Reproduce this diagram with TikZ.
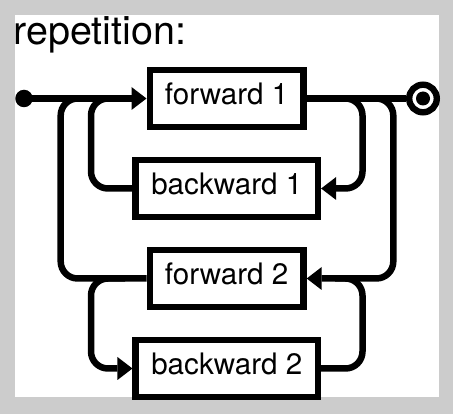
\documentclass[tikz,border=0pt]{standalone}
\usepackage{fontspec}
\setmainfont{TeX Gyre Heros}
\usetikzlibrary{arrows.meta}
\definecolor{framegray}{HTML}{CCCCCC}
\begin{document}
\begin{tikzpicture}[x=1pt,y=-1pt,
  conn/.style={line width=6.5pt, rounded corners=17pt},
  arr/.style={-{Triangle[length=15pt,width=23pt,line width=0pt]}},
  blockbox/.style={draw, line width=6.4pt, minimum height=56.5pt, text height=20pt, text depth=8pt, inner sep=0pt, font=\fontsize{29.6}{34}\selectfont},
  fwd/.style={blockbox, minimum width=153.8pt},
  bwd/.style={blockbox, minimum width=182.3pt}]
\fill[framegray] (0,0) rectangle (453,414);
\fill[white] (15,15) rectangle (438.7,397.3);
\useasboundingbox (0,0) rectangle (453,414);
\node[anchor=base west, inner sep=0pt, font=\fontsize{39.5}{44}\selectfont] (title) at (13.5,45) {repetition:};
\node[fwd] (f1) at (226.6,98.5) {forward 1};
\node[bwd] (b1) at (226.8,188.5) {backward 1};
\node[fwd] (f2) at (226.6,278.5) {forward 2};
\node[bwd] (b2) at (226.8,368.5) {backward 2};
\node[circle, fill, minimum size=17.5pt, inner sep=0pt] (start) at (24,98.5) {};
\node[circle, draw, line width=6.4pt, minimum size=27.6pt, inner sep=0pt] (end) at (423,98.5) {};
\fill (end.center) circle[radius=7pt];
\coordinate (jA) at (115,98.5);
\coordinate (jB) at (125,98.5);
\coordinate (jC) at (335,98.5);
\coordinate (jD) at (375,98.5);
\coordinate (jE) at (125,278.5);
\coordinate (jF) at (335,278.5);
\draw[conn,arr] (start.center) -- (f1.west);
\draw[conn] (f1.east) -- (end.west);
\draw[conn] (f2.west) -| (60.7,98.5) -- (jA);
\draw[conn] (b1.west) -| (91,98.5) -- (jB);
\draw[conn,arr] (jC) -| (362.5,188.5) -- (b1.east);
\draw[conn,arr] (jD) -| (393.3,278.5) -- (f2.east);
\draw[conn,arr] (jE) -| (91,368.5) -- (b2.west);
\draw[conn] (b2.east) -| (362.5,278.5) -- (jF);
\end{tikzpicture}
\end{document}
